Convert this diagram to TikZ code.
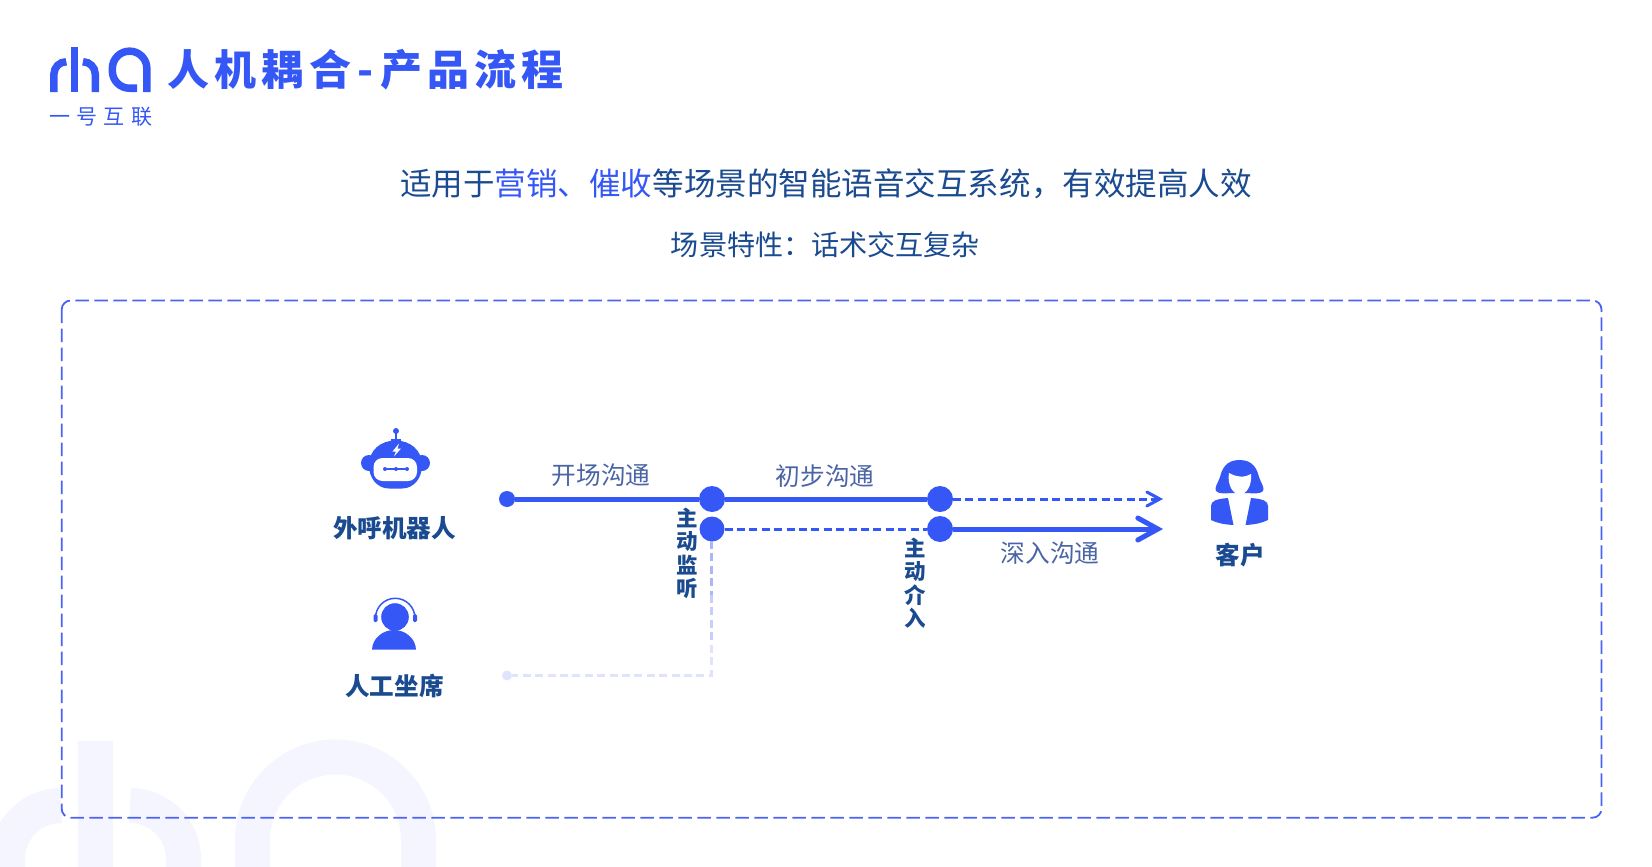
\documentclass[tikz,border=0pt]{standalone}
\usepackage{fontspec}
\setmainfont{Noto Sans CJK SC}
\usetikzlibrary{arrows.meta}
\definecolor{brand}{HTML}{3557F5}
\definecolor{ink}{HTML}{1A4A8F}
\definecolor{soft}{HTML}{4A64A5}
\definecolor{bgmark}{HTML}{F4F5FE}
\definecolor{frame}{HTML}{4A63F5}
\definecolor{ghostA}{HTML}{AAB6FB}
\definecolor{ghostB}{HTML}{C6CEFC}
\definecolor{ghostC}{HTML}{DFE3FE}
\newcommand{\fs}[1]{\fontsize{#1}{#1}\selectfont}
\tikzset{
  txt/.style={inner sep=0pt,outer sep=0pt},
  lead/.style={txt,font=\fs{31.55},text=ink},
  sub/.style={txt,font=\fs{28.1},text=ink},
  step label/.style={txt,font=\fs{24.7},text=soft},
  who/.style={txt,font=\fs{24.6}\bfseries,text=ink},
  vert/.style={txt,font=\fontsize{21.5}{23.4}\selectfont\bfseries,text=ink,align=center},
  dot/.style={circle,fill=brand,inner sep=0pt,outer sep=0pt,minimum size=#1},
  main/.style={brand,line width=5pt},
  dash line/.style={brand,line width=3pt,dash pattern=on 8pt off 4.4pt},
  ghost/.style={line width=3pt,dash pattern=on 8pt off 4.4pt},
  logo stroke/.style={line width=7.5pt,draw=brand},
  big stroke/.style={line width=35pt,draw=bgmark},
}
\begin{document}
\begin{tikzpicture}[x=1pt,y=-1pt]
\useasboundingbox (0,0) rectangle (1652,867);
% watermark
\begin{scope}
\clip (0,0) rectangle (1652,867);
\draw[big stroke] (130,805.5) arc (-90:0:53.5) -- (183.5,867);
\draw[big stroke] (61,805.5) arc (-90:-180:53.5) -- (7.5,867);
\draw[big stroke] (95.5,741) -- (95.5,867);
\draw[big stroke] (252.5,867) -- (252.5,840) arc (180:360:83) -- (418.5,867);
\end{scope}
% logo
\draw[logo stroke] (82.9,61.75) arc (-90:0:12.35) -- (95.25,92);
\draw[logo stroke] (66.3,61.75) arc (-90:-180:12.35) -- (53.95,92);
\draw[logo stroke] (74.6,47.4) -- (74.6,92);
\draw[logo stroke] (146.85,92) -- (146.85,68.4) arc (0:-180:17.25) -- (112.35,71) arc (180:90:17.25) -- (137,88.25);
\node[txt,anchor=west,font=\fs{42}\bfseries,text=brand] (title) at (167,70)
  {人\hspace{5.5pt}机\hspace{5.5pt}耦\hspace{5.5pt}合\hspace{6pt}-\hspace{7pt}产\hspace{5pt}品\hspace{5pt}流\hspace{5pt}程};
\node[txt,font=\fs{21},text=brand] (brandname) at (100.8,117)
  {一\hspace{6.2pt}号\hspace{6.2pt}互\hspace{6.2pt}联};
% headings
\node[lead] (lead) at (826,184)
  {适用于\textcolor{brand}{营销、催收}等场景的智能语音交互系统，有效提高人效};
\node[sub] (sub) at (825.5,244.5) {场景特性：话术交互复杂};
% frame
\draw[frame,line width=1.8pt,rounded corners=9pt,dash pattern=on 13.5pt off 5.5pt]
  (61.7,300.5) rectangle (1601.5,817.7);
% robot
\fill[brand] (369,463) circle (8) (422,463) circle (8);
\draw[brand,line width=2pt] (396,431) -- (396,443);
\fill[brand] (396,431) circle (3);
\fill[brand] (391,438.5) rectangle (401,444);
\fill[brand] (369,465) .. controls (369,450) and (381,440.5) .. (395.5,440.5)
  .. controls (410,440.5) and (422,450) .. (422,465)
  .. controls (422,472) and (420,477) .. (417,481) .. controls (413,486) and (408,488.5) .. (402,488.5)
  -- (389,488.5) .. controls (383,488.5) and (378,486) .. (374,481) .. controls (371,477) and (369,472) .. (369,465) -- cycle;
\fill[white,rounded corners=9pt] (373.5,458) rectangle (417,481);
\draw[brand,line width=1.6pt] (385,469) -- (407,469);
\fill[brand] (385,469) circle (2) (396,469) circle (2) (407,469) circle (2);
\fill[white] (399,443.5) -- (392.5,451.5) -- (396,451.5) -- (394,456.5) -- (401,448.5) -- (397.5,448.5) -- cycle;
\node[who] (robot) at (394.5,528.5) {外呼机器人};
% agent
\draw[brand,line width=1.5pt] (375.5,618) arc (180:360:19.7);
\fill[brand,rounded corners=1.5pt] (373.5,614) rectangle (377.5,622);
\fill[brand,rounded corners=1.5pt] (413,614) rectangle (417,622);
\fill[brand] (395,617) circle (13.8);
\fill[brand] (372,649.5) .. controls (372.5,638) and (383,630) .. (394,630)
  .. controls (405,630) and (415.5,638) .. (416,649.5) -- cycle;
\node[who] (agent) at (394.5,686) {人工坐席};
% customer
\fill[brand] (1239.5,460) .. controls (1226,460) and (1222,469) .. (1220,477)
  .. controls (1218,483) and (1214,488) .. (1216,491) .. controls (1218,494) and (1226,493.5) .. (1232,493)
  -- (1247,493) .. controls (1253,493.5) and (1261,494) .. (1263,491)
  .. controls (1265,488) and (1261,483) .. (1259,477) .. controls (1257,469) and (1253,460) .. (1239.5,460) -- cycle;
\fill[white] (1229,473) .. controls (1236,477) and (1245,478) .. (1251,474)
  .. controls (1252,485) and (1247,494) .. (1240,494.5) .. controls (1233,494.5) and (1227,485) .. (1229,473) -- cycle;
\fill[brand] (1211,506) .. controls (1211,501) and (1216,499) .. (1228,498) -- (1233.5,525)
  .. controls (1224,524.5) and (1217,523) .. (1211,520) -- cycle;
\fill[brand] (1268,506) .. controls (1268,501) and (1263,499) .. (1251,498) -- (1245.5,525)
  .. controls (1255,524.5) and (1262,523) .. (1268,520) -- cycle;
\node[who] (customer) at (1240,555.5) {客户};
% flow nodes
\node[dot=16pt] (n0) at (507,499) {};
\node[dot=26pt] (n1) at (712,499) {};
\node[dot=25pt] (n2) at (712,529) {};
\node[dot=26pt] (n3) at (940,499) {};
\node[dot=26pt] (n4) at (940,529) {};
\node[dot=10pt,fill=ghostC] (n5) at (507,675.5) {};
\coordinate (t1) at (1163,499);
\coordinate (t2) at (1163,529);
\coordinate (c1) at (711,595);
\coordinate (c2) at (711,645);
\coordinate (c3) at (711,675.5);
% connectors
\draw[main] (n0) -- (n1);
\draw[main] (n1) -- (n3);
\draw[dash line] (n2) -- (n4);
\draw[dash line,-{Straight Barb[length=13pt,width=14pt,line cap=round]}] (n3) -- (t1);
\draw[brand,line width=5pt,-{Straight Barb[length=20pt,width=22pt,line cap=round]}] (n4) -- (t2);
\draw[ghost,ghostA] (711,541) -- (c1);
\draw[ghost,ghostB] (c1) -- (c2);
\draw[ghost,ghostC] (c2) -- (c3) -- (n5);
% flow labels
\node[step label] (l1) at (601,475) {开场沟通};
\node[step label] (l2) at (825,476) {初步沟通};
\node[step label] (l3) at (1050,553) {深入沟通};
\node[vert] (v1) at (687,553.5) {主\\动\\监\\听};
\node[vert] (v2) at (915,583) {主\\动\\介\\入};
\end{tikzpicture}
\end{document}
